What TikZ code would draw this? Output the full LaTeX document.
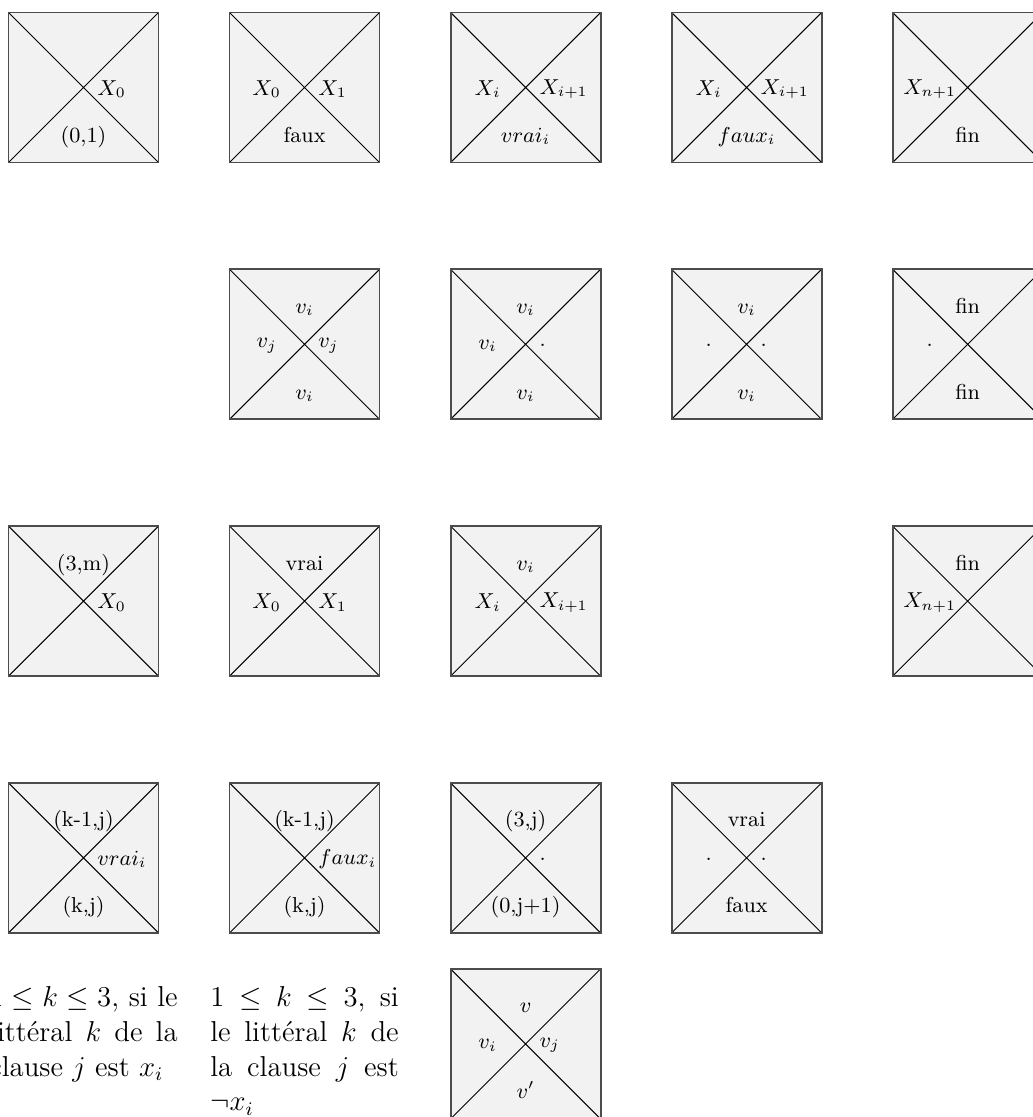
\documentclass[tikz,border=0pt]{standalone}
\usepackage{fontspec}
\usetikzlibrary{positioning}
\tikzset{
    tuile/.style={
        rectangle,
        draw=black!70,
        line width=0.8pt,
        fill=black!5,
        minimum size=62.5pt,
        inner sep=0pt,
        path picture={
            \draw[black, line width=0.4pt]
                (path picture bounding box.north west) -- (path picture bounding box.south east)
                (path picture bounding box.south west) -- (path picture bounding box.north east);
        }
    },
    etiq/.style={font=\fontsize{9}{11}\selectfont, inner sep=0pt},
    haut/.style={etiq, anchor=base, yshift=12.9pt},
    bas/.style={etiq, anchor=base, yshift=-22.9pt},
    gauche/.style={etiq, anchor=center, xshift=-15.8pt, yshift=-0.6pt},
    droite/.style={etiq, anchor=west, xshift=5.6pt, yshift=-0.6pt},
    texte/.style={text width=78.5pt, align=justify, inner sep=0pt, font=\fontsize{12}{14.5}\selectfont}
}

\begin{document}
\begin{tikzpicture}[node distance=43.7pt and 28.8pt]
    \useasboundingbox (0,0) rectangle (430.42pt,-465.42pt);

    % Tuiles
    \node[tuile] (t11) at (34.79pt,-36.46pt) {};
    \node[tuile, right=of t11] (t12) {};
    \node[tuile, right=of t12] (t13) {};
    \node[tuile, right=of t13] (t14) {};
    \node[tuile, right=of t14] (t15) {};

    \node[tuile, below=of t12] (t22) {};
    \node[tuile, right=of t22] (t23) {};
    \node[tuile, right=of t23] (t24) {};
    \node[tuile, right=of t24] (t25) {};

    \node[tuile, below=of t22] (t32) {};
    \node[tuile, left=of t32] (t31) {};
    \node[tuile, right=of t32] (t33) {};
    \node[tuile, below=of t25] (t35) {};

    \node[tuile, below=of t31] (t41) {};
    \node[tuile, below=of t32] (t42) {};
    \node[tuile, below=of t33] (t43) {};
    \node[tuile, right=of t43] (t44) {};

    \node[tuile, below=14.2pt of t43] (t53) {};

    % Etiquettes
    \node[droite] (t11d) at (t11) {$X_0$};
    \node[bas] (t11b) at (t11) {(0,1)};

    \node[gauche] (t12g) at (t12) {$X_0$};
    \node[droite] (t12d) at (t12) {$X_1$};
    \node[bas] (t12b) at (t12) {faux};

    \node[gauche] (t13g) at (t13) {$X_i$};
    \node[droite] (t13d) at (t13) {$X_{i+1}$};
    \node[bas] (t13b) at (t13) {$vrai_i$};

    \node[gauche] (t14g) at (t14) {$X_i$};
    \node[droite] (t14d) at (t14) {$X_{i+1}$};
    \node[bas] (t14b) at (t14) {$faux_i$};

    \node[gauche] (t15g) at (t15) {$X_{n+1}$};
    \node[bas] (t15b) at (t15) {fin};

    \node[haut] (t22h) at (t22) {$v_i$};
    \node[gauche] (t22g) at (t22) {$v_j$};
    \node[droite] (t22d) at (t22) {$v_j$};
    \node[bas] (t22b) at (t22) {$v_i$};

    \node[haut] (t23h) at (t23) {$v_i$};
    \node[gauche] (t23g) at (t23) {$v_i$};
    \node[droite] (t23d) at (t23) {.};
    \node[bas] (t23b) at (t23) {$v_i$};

    \node[haut] (t24h) at (t24) {$v_i$};
    \node[gauche] (t24g) at (t24) {.};
    \node[droite] (t24d) at (t24) {.};
    \node[bas] (t24b) at (t24) {$v_i$};

    \node[haut] (t25h) at (t25) {fin};
    \node[gauche] (t25g) at (t25) {.};
    \node[bas] (t25b) at (t25) {fin};

    \node[haut] (t31h) at (t31) {(3,m)};
    \node[droite] (t31d) at (t31) {$X_0$};

    \node[haut] (t32h) at (t32) {vrai};
    \node[gauche] (t32g) at (t32) {$X_0$};
    \node[droite] (t32d) at (t32) {$X_1$};

    \node[haut] (t33h) at (t33) {$v_i$};
    \node[gauche] (t33g) at (t33) {$X_i$};
    \node[droite] (t33d) at (t33) {$X_{i+1}$};

    \node[haut] (t35h) at (t35) {fin};
    \node[gauche] (t35g) at (t35) {$X_{n+1}$};

    \node[haut] (t41h) at (t41) {(k-1,j)};
    \node[droite] (t41d) at (t41) {$vrai_i$};
    \node[bas] (t41b) at (t41) {(k,j)};

    \node[haut] (t42h) at (t42) {(k-1,j)};
    \node[droite] (t42d) at (t42) {$faux_i$};
    \node[bas] (t42b) at (t42) {(k,j)};

    \node[haut] (t43h) at (t43) {(3,j)};
    \node[droite] (t43d) at (t43) {.};
    \node[bas] (t43b) at (t43) {(0,j+1)};

    \node[haut] (t44h) at (t44) {vrai};
    \node[gauche] (t44g) at (t44) {.};
    \node[droite] (t44d) at (t44) {.};
    \node[bas] (t44b) at (t44) {faux};

    \node[haut] (t53h) at (t53) {$v$};
    \node[gauche] (t53g) at (t53) {$v_i$};
    \node[droite] (t53d) at (t53) {$v_j$};
    \node[bas] (t53b) at (t53) {$v'$};

    % Conditions
    \node[texte, below=21.7pt of t41] (cond1) {$1 \leq k \leq 3$, si le\linebreak littéral $k$ de la\linebreak clause $j$ est $x_i$};
    \node[texte, below=21.7pt of t42] (cond2) {$1 \leq k \leq 3$, si\linebreak le littéral $k$ de\linebreak la clause $j$ est\linebreak $\neg x_i$};
\end{tikzpicture}
\end{document}
